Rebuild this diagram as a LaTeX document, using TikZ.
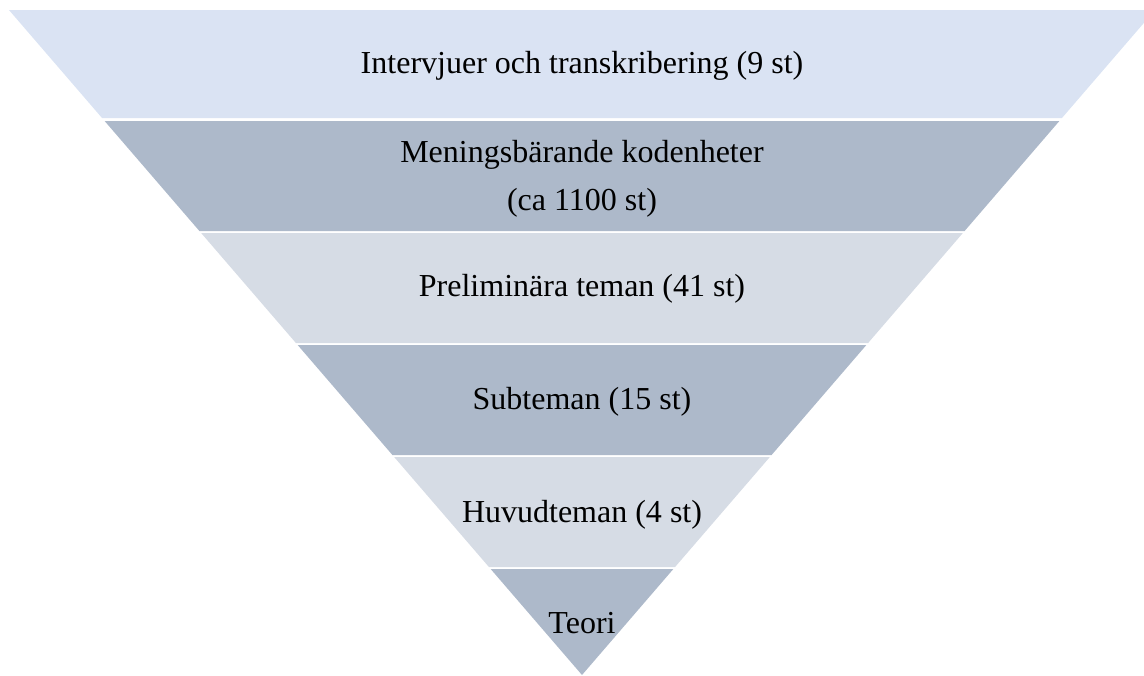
\documentclass[tikz,border=0pt]{standalone}
\usepackage{fontspec}
\setmainfont{Liberation Serif}
\definecolor{bandlight}{HTML}{DAE3F3}
\definecolor{banddark}{HTML}{ADB9CA}
\definecolor{bandmid}{HTML}{D6DCE5}
\begin{document}
\begin{tikzpicture}[x=0.75pt,y=-0.75pt,
  lbl/.style={font=\fontsize{24}{35.3}\selectfont, text=black, inner sep=0pt, align=center, anchor=base}]
\useasboundingbox (0,0) rectangle (1144,675);
\clip (0,0) rectangle (1144,675);
\newcommand{\band}[3]{%
  \fill[#3] ({582-0.8617*(675-#1)},#1) -- ({582+0.8617*(675-#1)},#1)
    -- ({582+0.8617*(675-#2)},#2) -- ({582-0.8617*(675-#2)},#2) -- cycle;}
\band{10}{118}{bandlight}
\band{121}{231}{banddark}
\band{233}{343}{bandmid}
\band{345}{455}{banddark}
\band{457}{567}{bandmid}
\band{569}{675}{banddark}
\node[lbl] (t1) at (582,73) {Intervjuer och transkribering (9 st)};
\node[lbl] (t2) at (582,210) {Meningsbärande kodenheter\\(ca 1100 st)};
\node[lbl] (t3) at (582,296) {Preliminära teman (41 st)};
\node[lbl] (t4) at (582,409) {Subteman (15 st)};
\node[lbl] (t5) at (582,522) {Huvudteman (4 st)};
\node[lbl] (t6) at (582,633) {Teori};
\end{tikzpicture}
\end{document}
